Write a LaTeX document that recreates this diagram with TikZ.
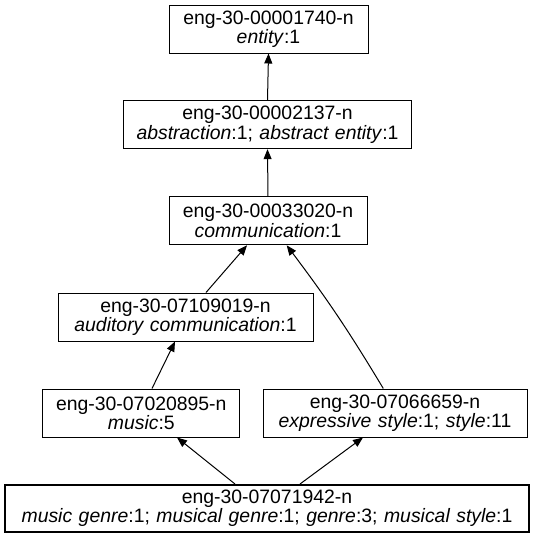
\documentclass[tikz,border=0pt]{standalone}
\usepackage{fontspec}
\setmainfont{Liberation Sans}
\usetikzlibrary{arrows.meta}
\newcommand{\synfont}{\fontsize{19.4}{18}\selectfont\spaceskip=6.5pt\relax}
\tikzset{
  syn/.style={draw=black, line width=1pt, rectangle, minimum height=48pt, inner sep=0pt, align=center,
    font=\synfont},
  mainsyn/.style={syn, line width=2pt, minimum height=47pt},
  hyp/.style={draw=black, line width=1pt, -{Triangle[length=10pt,width=8pt]}},
}
\begin{document}
\begin{tikzpicture}[x=1pt,y=-1pt]
\useasboundingbox (0,0) rectangle (536,539);
\node[syn, minimum width=199pt] (e1) at (268.5,29) {eng-30-00001740-n\\\textit{entity}:1};
\node[syn, minimum width=288pt] (e2) at (267.5,124.7) {eng-30-00002137-n\\\textit{abstraction}:1; \textit{abstract entity}:1};
\node[syn, minimum width=198pt] (e3) at (268,220.8) {eng-30-00033020-n\\\textit{communication}:1};
\node[syn, minimum width=255pt] (e4) at (185.5,317) {eng-30-07109019-n\\\textit{auditory communication}:1};
\node[syn, minimum width=197pt] (e5) at (141.3,413) {eng-30-07020895-n\\\textit{music}:5};
\node[syn, minimum width=264pt] (e6) at (395,413) {eng-30-07066659-n\\\textit{expressive style}:1; \textit{style}:11};
\node[mainsyn, minimum width=524pt] (e7) at (267,508.5) {eng-30-07071942-n\\\textit{music genre}:1; \textit{musical genre}:1; \textit{genre}:3; \textit{musical style}:1};
\draw[hyp] (e2.north) -- (e1.south);
\draw[hyp] (e3.north) -- (e2.south);
\draw[hyp] ([xshift=20.5pt]e4.north) -- ([xshift=-21pt]e3.south);
\draw[hyp] ([xshift=-11.7pt]e6.north) to[bend right=3] ([xshift=18.7pt]e3.south);
\draw[hyp] ([xshift=10.7pt]e5.north) -- ([xshift=-10.5pt]e4.south);
\draw[hyp] ([xshift=-32pt]e7.north) -- ([xshift=35.7pt]e5.south);
\draw[hyp] ([xshift=33pt]e7.north) -- ([xshift=-32pt]e6.south);
\end{tikzpicture}
\end{document}
